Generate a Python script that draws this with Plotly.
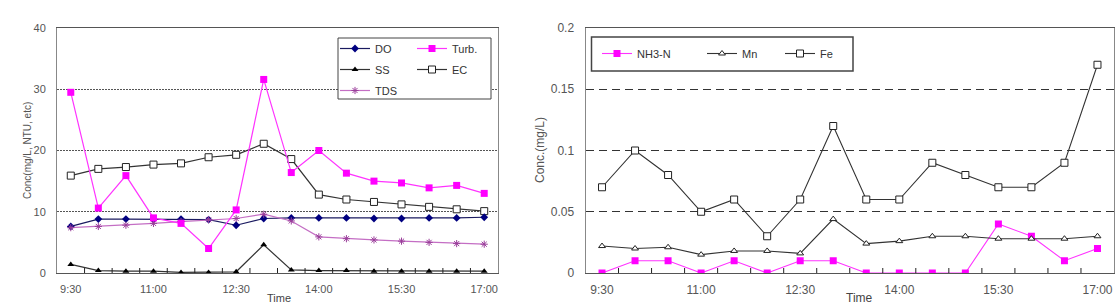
import plotly.graph_objects as go

# ---------------- data ----------------
times = ["9:30", "10:00", "10:30", "11:00", "11:30", "12:00", "12:30", "13:00",
         "13:30", "14:00", "14:30", "15:00", "15:30", "16:00", "16:30", "17:00"]
tick_labels = ["9:30", "11:00", "12:30", "14:00", "15:30", "17:00"]

do_vals   = [7.6, 8.8, 8.8, 8.8, 8.8, 8.7, 7.8, 8.9, 9.0, 9.0, 9.0, 8.9, 8.9, 9.0, 9.0, 9.1]
turb_vals = [29.5, 10.6, 15.9, 9.0, 8.1, 4.0, 10.3, 31.6, 16.4, 20.0, 16.3, 15.0, 14.7, 13.9, 14.3, 13.0]
ss_vals   = [1.4, 0.4, 0.3, 0.3, 0.1, 0.1, 0.2, 4.6, 0.5, 0.4, 0.4, 0.3, 0.3, 0.3, 0.3, 0.3]
ec_vals   = [15.9, 17.0, 17.3, 17.7, 17.9, 18.9, 19.3, 21.1, 18.6, 12.8, 12.0, 11.6, 11.2, 10.8, 10.4, 10.1]
tds_vals  = [7.4, 7.6, 7.8, 8.1, 8.4, 8.7, 8.9, 9.6, 8.5, 5.9, 5.6, 5.4, 5.2, 5.0, 4.8, 4.7]

nh3_vals = [0.0, 0.01, 0.01, 0.0, 0.01, 0.0, 0.01, 0.01, 0.0, 0.0, 0.0, 0.0, 0.04, 0.03, 0.01, 0.02]
mn_vals  = [0.022, 0.020, 0.021, 0.015, 0.018, 0.018, 0.016, 0.044, 0.024, 0.026, 0.030, 0.030, 0.028, 0.028, 0.028, 0.030]
fe_vals  = [0.07, 0.10, 0.08, 0.05, 0.06, 0.03, 0.06, 0.12, 0.06, 0.06, 0.09, 0.08, 0.07, 0.07, 0.09, 0.17]

left_yticks = [0, 10, 20, 30, 40]
right_yticks = [0, 0.05, 0.1, 0.15, 0.2]
right_yticktext = ["0", "0.05", "0.1", "0.15", "0.2"]

# ---------------- figure ----------------
W, H = 1119, 305
xi = list(range(len(times)))
label_pos = [times.index(t) for t in tick_labels]
boundaries = [i + 0.5 for i in xi[:-1]]
xrange_ = [-0.5, len(times) - 0.5]

PLOT_TOP, PLOT_BOTTOM = 28, 273
FONT = "Liberation Sans, Arial, sans-serif"

def px_x(p):
    return p / W

def px_y(p):
    return 1 - p / H

fig = go.Figure()

def add(y, name, xa, ya, legend, group, mcolor, symbol, size, lcolor, lwidth=1.2, mline=None, rank=1):
    marker = dict(symbol=symbol, size=size, color=mcolor)
    if mline is not None:
        marker["line"] = dict(color=mline, width=1)
    fig.add_trace(go.Scatter(
        x=xi, y=y, name=name, mode="lines+markers", xaxis=xa, yaxis=ya,
        legend=legend, legendgroup=group, legendrank=rank,
        line=dict(color=lcolor, width=lwidth), marker=marker))

# left chart
add(ec_vals, "EC", "x", "y", "legend2", "ec", "white", "square", 7, "#333333", mline="#222222", rank=2)
add(do_vals, "DO", "x", "y", "legend", "do", "#000080", "diamond", 6, "#1a1a60", rank=1)
add(tds_vals, "TDS", "x", "y", "legend", "tds", "#9a3d9a", "asterisk-open", 6, "#c46ec4", mline="#9a3d9a", rank=3)
add(ss_vals, "SS", "x", "y", "legend", "ss", "#000000", "triangle-up", 6, "#333333", rank=2)
add(turb_vals, "Turb.", "x", "y", "legend2", "turb", "#ff00ff", "square", 7, "#ff33ff", rank=1)

# right chart
add(nh3_vals, "NH3-N", "x2", "y2", "legend3", "nh3", "#ff00ff", "square", 7, "#ff33ff", lwidth=1.1)
add(mn_vals, "Mn", "x2", "y2", "legend4", "mn", "white", "triangle-up", 6, "#333333", lwidth=1.1, mline="#222222")
add(fe_vals, "Fe", "x2", "y2", "legend5", "fe", "white", "square", 7, "#333333", lwidth=1.1, mline="#222222")

def xaxis_cfg(fontsize):
    return dict(
        range=xrange_, tickmode="array", tickvals=label_pos, ticktext=tick_labels,
        ticks="", showgrid=False, zeroline=False, showline=True, linecolor="#555555", linewidth=1,
        mirror=True, tickfont=dict(family=FONT, size=fontsize, color="#555555"), ticklabelstandoff=6,
        automargin=False, fixedrange=True,
    )

fig.update_layout(
    width=W, height=H, margin=dict(l=0, r=0, t=0, b=0),
    paper_bgcolor="white", plot_bgcolor="white",
    font=dict(family=FONT, size=11, color="#333333"),
    showlegend=True,
    xaxis=dict(domain=[px_x(57), px_x(498)], anchor="y", **xaxis_cfg(11)),
    xaxis2=dict(domain=[px_x(585.5), px_x(1114)], anchor="y2", **xaxis_cfg(12)),
    yaxis=dict(domain=[px_y(PLOT_BOTTOM), px_y(PLOT_TOP)], anchor="x", range=[0, 40], tickmode="array",
               tickvals=left_yticks, ticks="", showgrid=True, gridcolor="#555555",
               griddash="2px,1px", gridwidth=1, zeroline=False, showline=True,
               linecolor="#888888", mirror=True,
               tickfont=dict(family=FONT, size=11, color="#555555"), ticklabelstandoff=8,
               automargin=False, fixedrange=True),
    yaxis2=dict(domain=[px_y(PLOT_BOTTOM), px_y(PLOT_TOP)], anchor="x2", range=[0, 0.2], tickmode="array",
                tickvals=right_yticks, ticktext=right_yticktext, ticks="", showgrid=True,
                gridcolor="#333333", griddash="8px,5px", gridwidth=1.2, zeroline=False,
                showline=True, linecolor="#888888", mirror=True,
                tickfont=dict(family=FONT, size=12, color="#555555"),
                ticklabelstandoff=8, automargin=False, fixedrange=True),
)

# category-boundary tick marks on the time axes (placed through the axis scale)
tick_frac = 5 / (PLOT_BOTTOM - PLOT_TOP)
for xref, yref in (("x", "y domain"), ("x2", "y2 domain")):
    for b in boundaries:
        fig.add_shape(type="line", xref=xref, yref=yref, x0=b, x1=b, y0=0, y1=tick_frac,
                      line=dict(color="#222222", width=1), layer="above")

leg_common = dict(bgcolor="rgba(0,0,0,0)", borderwidth=0, xanchor="left", yanchor="top",
                  font=dict(family=FONT, size=11, color="#333333"), tracegroupgap=2,
                  itemclick=False, itemdoubleclick=False)
fig.update_layout(
    legend=dict(x=px_x(335), y=px_y(34), orientation="v", **leg_common),
    legend2=dict(x=px_x(412), y=px_y(34), orientation="v", **leg_common),
    legend3=dict(x=px_x(597), y=px_y(39), orientation="v", **leg_common),
    legend4=dict(x=px_x(702), y=px_y(39), orientation="v", **leg_common),
    legend5=dict(x=px_x(780), y=px_y(39), orientation="v", **leg_common),
)

# legend frames (opaque white boxes)
fig.add_shape(type="rect", xref="paper", yref="paper", x0=px_x(338), x1=px_x(491),
              y0=px_y(99), y1=px_y(38), fillcolor="white", line=dict(color="#444444", width=1), layer="above")
fig.add_shape(type="rect", xref="paper", yref="paper", x0=px_x(591.5), x1=px_x(853),
              y0=px_y(71), y1=px_y(37), fillcolor="white", line=dict(color="#444444", width=1.5), layer="above")

# axis titles
fig.add_annotation(text="Time", xref="paper", yref="paper", x=px_x(279), y=px_y(298),
                   showarrow=False, xanchor="center", yanchor="middle",
                   font=dict(family=FONT, size=11, color="#444444"))
fig.add_annotation(text="Time", xref="paper", yref="paper", x=px_x(859), y=px_y(298),
                   showarrow=False, xanchor="center", yanchor="middle",
                   font=dict(family=FONT, size=12, color="#444444"))
fig.add_annotation(text="Conc(mg/L, NTU, etc)", xref="paper", yref="paper", x=px_x(27), y=px_y(151),
                   showarrow=False, textangle=-90, xanchor="center", yanchor="middle",
                   font=dict(family=FONT, size=10, color="#555555"))
fig.add_annotation(text="Conc.(mg/L)", xref="paper", yref="paper", x=px_x(540), y=px_y(150),
                   showarrow=False, textangle=-90, xanchor="center", yanchor="middle",
                   font=dict(family=FONT, size=12, color="#555555"))

fig.write_html("out.html")
